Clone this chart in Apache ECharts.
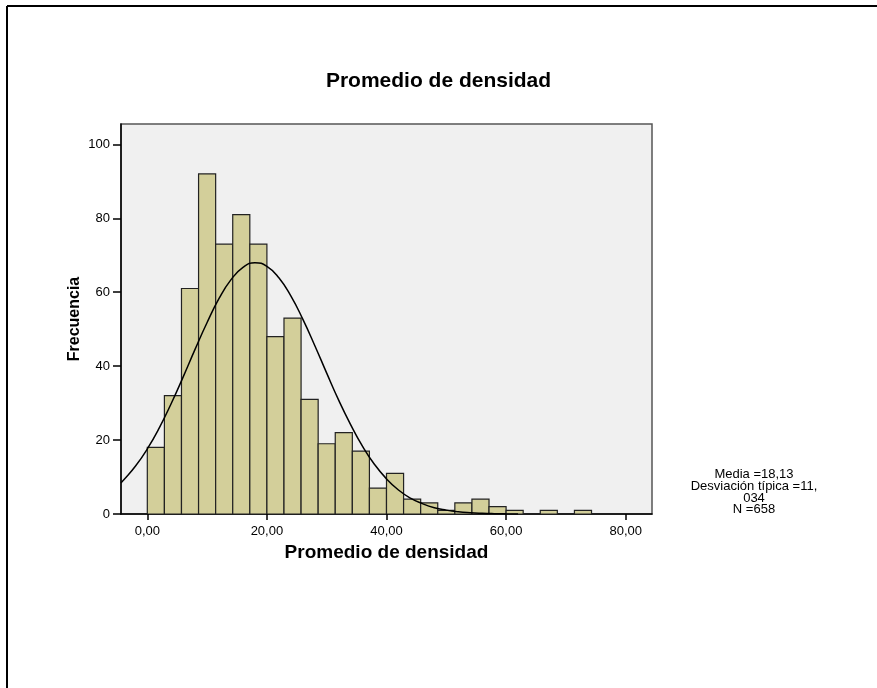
<!DOCTYPE html>
<html>
<head>
<meta charset="utf-8">
<script src="https://cdn.jsdelivr.net/npm/echarts@6/dist/echarts.min.js"></script>
<style>
html,body{margin:0;padding:0;background:#fff;}
#chart{width:877px;height:688px;}
</style>
</head>
<body>
<div id="chart"></div>
<script>
// Histogram: bin width and first bin start (x units)
var binStart = 0;
var binWidth = 20 / 7;
// Frequency of each bin
var counts = [18, 32, 61, 92, 73, 81, 73, 48, 53, 31, 19, 22, 17, 7, 11, 4, 3, 1, 3, 4, 2, 1, 0, 1, 0, 1];
var curveX = [-4.4, -4, -2, 0, 2, 4, 6, 8, 10, 12, 14, 16, 18, 20, 22, 24, 26, 28, 30, 32, 34, 36, 38, 40, 42, 44, 46, 48, 50, 52, 54, 56, 58, 60, 62];
var curveY = [8.4, 9.1, 12.9, 17.6, 23.3, 29.9, 37.1, 44.6, 51.8, 58.3, 63.4, 66.7, 68.0, 67.0, 63.9, 59.0, 52.7, 45.6, 38.1, 30.8, 24.2, 18.3, 13.4, 9.5, 6.5, 4.3, 2.8, 1.7, 1.05, 0.6, 0.34, 0.19, 0.1, 0.05, 0.02];
// Tick values
var xTicks = [0, 20, 40, 60, 80];
var yTicks = [0, 20, 40, 60, 80, 100];
// Texts
var titleText = 'Promedio de densidad';
var xName = 'Promedio de densidad';
var yName = 'Frecuencia';
var statsLines = ['Media =18,13', 'Desviación típica =11,', '034', 'N =658'];

var barData = counts.map(function (c, i) {
  return [binStart + i * binWidth, binStart + (i + 1) * binWidth, c];
});
var curveData = curveX.map(function (x, i) { return [x, curveY[i]]; });

var FONT = '"Liberation Sans", Arial, sans-serif';
var chart = echarts.init(document.getElementById('chart'), null, {renderer: 'canvas'});
chart.setOption({
  animation: false,
  backgroundColor: '#ffffff',
  title: {
    text: titleText,
    left: 'center',
    top: 66,
    textStyle: {fontFamily: FONT, fontWeight: 'bold', fontSize: 21, color: '#000'}
  },
  grid: {
    left: 121, top: 124, right: 225, bottom: 174,
    show: true, backgroundColor: '#f0f0f0', borderColor: '#555', borderWidth: 1.5
  },
  xAxis: {
    type: 'value',
    min: -4.4, max: 84.4,
    name: xName,
    nameLocation: 'middle',
    nameGap: 24,
    nameTextStyle: {fontFamily: FONT, fontWeight: 'bold', fontSize: 19, color: '#000'},
    axisLine: {show: true, onZero: false, lineStyle: {color: '#000', width: 1.5}},
    axisTick: {show: true, inside: false, length: 6, customValues: xTicks, lineStyle: {color: '#000', width: 1.5}},
    axisLabel: {
      show: true, margin: 11, customValues: xTicks,
      fontFamily: FONT, fontSize: 13, color: '#000',
      formatter: function (v) { return v.toFixed(2).replace('.', ','); }
    },
    splitLine: {show: false}
  },
  yAxis: {
    type: 'value',
    min: 0, max: 105.5,
    name: yName,
    nameLocation: 'middle',
    nameGap: 38,
    nameMoveOverlap: false,
    nameRotate: 90,
    nameTextStyle: {fontFamily: FONT, fontWeight: 'bold', fontSize: 16, color: '#000'},
    axisLine: {show: true, onZero: false, lineStyle: {color: '#000', width: 1.5}},
    axisTick: {show: true, inside: false, length: 8, customValues: yTicks, lineStyle: {color: '#000', width: 1.5}},
    axisLabel: {
      show: true, margin: 11, customValues: yTicks,
      fontFamily: FONT, fontSize: 13, color: '#000'
    },
    splitLine: {show: false}
  },
  graphic: [
    {type: 'line', shape: {x1: 7, y1: 6, x2: 877, y2: 6}, style: {stroke: '#000', lineWidth: 2}},
    {type: 'line', shape: {x1: 7, y1: 6, x2: 7, y2: 688}, style: {stroke: '#000', lineWidth: 2}},
    {type: 'text', x: 754, y: 469, style: {
      text: statsLines.join('\n'), align: 'center', verticalAlign: 'top', fill: '#000',
      font: '13px ' + FONT, lineHeight: 11.6
    }}
  ],
  series: [
    {
      type: 'custom',
      data: barData,
      encode: {x: [0, 1], y: 2},
      clip: true,
      renderItem: function (params, api) {
        var p0 = api.coord([api.value(0), api.value(2)]);
        var p1 = api.coord([api.value(1), 0]);
        return {
          type: 'rect',
          shape: {x: p0[0], y: p0[1], width: p1[0] - p0[0], height: p1[1] - p0[1]},
          style: {fill: '#d3cf9a', stroke: '#222', lineWidth: 1.2}
        };
      }
    },
    {
      type: 'line',
      data: curveData,
      smooth: true,
      showSymbol: false,
      symbol: 'none',
      clip: true,
      lineStyle: {color: '#000', width: 1.5},
      z: 5
    }
  ]
});
</script>
</body>
</html>
